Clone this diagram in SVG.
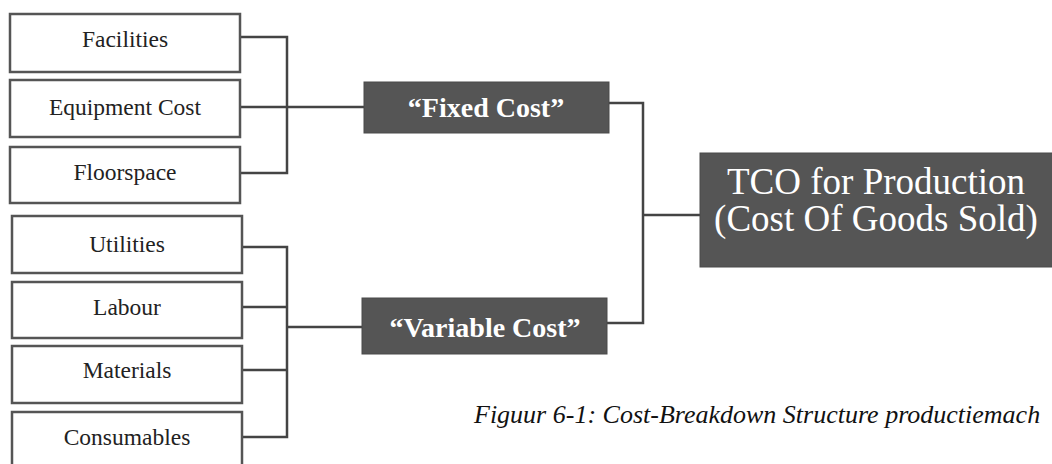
<svg xmlns="http://www.w3.org/2000/svg" width="1052" height="464" viewBox="0 0 1052 464">
<style>
.leaf{fill:#ffffff;stroke:#555;stroke-width:2.5}
.dark{fill:#555;stroke:#4a4a4a;stroke-width:1}
.lt{font-family:"Liberation Serif","Times New Roman",serif;font-size:23.5px;fill:#222;text-anchor:middle}
.dt{font-family:"Liberation Serif","Times New Roman",serif;font-size:28px;font-weight:bold;fill:#fff;text-anchor:middle}
.tt{font-family:"Liberation Serif","Times New Roman",serif;font-size:37px;fill:#fff;text-anchor:middle}
.cap{font-family:"Liberation Serif","Times New Roman",serif;font-size:26px;font-style:italic;fill:#111}
.con{fill:none;stroke:#444;stroke-width:2.5}
</style>
<rect width="1052" height="464" fill="#fff"/>
<g id="connectors">
<path class="con" d="M240 37 H287 V173 H240"/>
<path class="con" d="M240 107 H364"/>
<path class="con" d="M242 247 H287 V437 H242"/>
<path class="con" d="M242 307 H287 M242 370 H287"/>
<path class="con" d="M287 327 H362"/>
<path class="con" d="M609 103 H643 V323 H607"/>
<path class="con" d="M643 215 H700"/>
</g>
<g id="facilities"><rect class="leaf" x="10" y="14" width="230" height="58"/><text class="lt" x="125" y="47">Facilities</text></g>
<g id="equipment"><rect class="leaf" x="10" y="80" width="230" height="57"/><text class="lt" x="125" y="115">Equipment Cost</text></g>
<g id="floorspace"><rect class="leaf" x="10" y="147" width="230" height="56"/><text class="lt" x="125" y="180">Floorspace</text></g>
<g id="utilities"><rect class="leaf" x="12" y="216" width="230" height="57"/><text class="lt" x="127" y="252">Utilities</text></g>
<g id="labour"><rect class="leaf" x="12" y="282" width="230" height="56"/><text class="lt" x="127" y="315">Labour</text></g>
<g id="materials"><rect class="leaf" x="12" y="346" width="230" height="57"/><text class="lt" x="127" y="378">Materials</text></g>
<g id="consumables"><rect class="leaf" x="12" y="412" width="230" height="60"/><text class="lt" x="127" y="445">Consumables</text></g>
<g id="fixed"><rect class="dark" x="364" y="82" width="245" height="51"/><text class="dt" x="486" y="117">“Fixed Cost”</text></g>
<g id="variable"><rect class="dark" x="362" y="298" width="245" height="56"/><text class="dt" x="485" y="337">“Variable Cost”</text></g>
<g id="tco"><rect class="dark" x="700" y="153" width="360" height="114"/><text class="tt" x="876" y="194">TCO for Production</text><text class="tt" x="876" y="231">(Cost Of Goods Sold)</text></g>
<text class="cap" x="474" y="423">Figuur 6-1: Cost-Breakdown Structure productiemach</text>
</svg>
